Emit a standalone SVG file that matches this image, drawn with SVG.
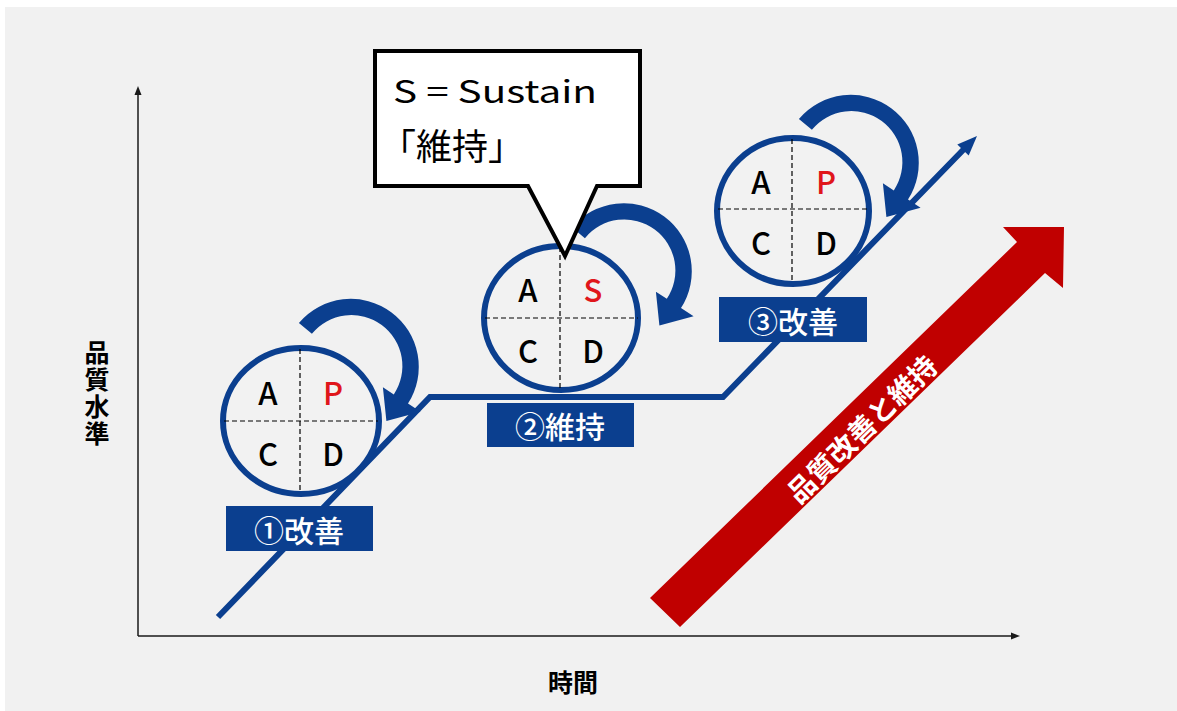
<svg xmlns="http://www.w3.org/2000/svg" width="1177" height="711" viewBox="0 0 1177 711">
<style>
.t{font-family:"Noto Sans CJK JP","Noto Sans",sans-serif}
.ax{stroke:#1a1a1a;stroke-width:1.5;fill:none}
.blue{fill:#0b3f8f}
.ring{fill:#f2f2f2;stroke:#0b3f8f;stroke-width:6}
.dash{stroke:#000;stroke-width:1.2;stroke-dasharray:5 3;fill:none}
.let{font-family:"Noto Sans CJK JP","Noto Sans",sans-serif;font-size:31px;font-weight:500;fill:#000;text-anchor:middle}
.lab{font-family:"Noto Sans CJK JP",sans-serif;font-size:30px;fill:#fff;text-anchor:middle;dominant-baseline:central;font-weight:500}
</style>
<defs>
<path id="curl" d="M-52.1,-43.7 A68,68 0 0 1 57.0,37.0 L69.6,45.2 L35.4,54.5 L31.9,20.7 L42.8,27.8 A51,51 0 0 0 -39.1,-32.8 Z"/>
</defs>
<rect x="0" y="0" width="1177" height="711" fill="#ffffff"/>
<rect x="5" y="7" width="1172" height="704" fill="#f1f1f1"/>

<g id="axes">
<line class="ax" x1="138" y1="636" x2="138" y2="94"/>
<polygon points="138,86 134.5,95 141.5,95" fill="#1a1a1a"/>
<line class="ax" x1="138" y1="636" x2="1012" y2="636"/>
<polygon points="1020,636 1011,632.5 1011,639.5" fill="#1a1a1a"/>
<text class="t" x="573" y="681" font-size="25" font-weight="bold" text-anchor="middle" dominant-baseline="central">時間</text>
<text class="t" x="97" y="340" font-size="25" font-weight="bold" writing-mode="tb" glyph-orientation-vertical="0" letter-spacing="2">品質水準</text>
</g>

<g id="trend-arrow">
<polygon points="650,598 1017,242 1003,227 1064,227 1063,288 1045,273 680,627" fill="#c00000"/>
<text class="t" x="861" y="428" font-size="28" font-weight="bold" fill="#ffffff" text-anchor="middle" dominant-baseline="central" transform="rotate(-44.2 861 428)">品質改善と維持</text>
</g>

<g id="connectors">
<polyline points="218,617 430,397 723,397 966,147" fill="none" stroke="#0b3f8f" stroke-width="6" stroke-linejoin="miter"/>
<polygon points="977,136 957.3,144.4 968.7,155.6" class="blue"/>
</g>

<g id="cycle1">
<ellipse class="ring" cx="301" cy="421" rx="78" ry="73"/>
<line class="dash" x1="224" y1="421" x2="378" y2="421"/>
<line class="dash" x1="300" y1="349" x2="300" y2="493"/>
<text class="let" x="268" y="405">A</text>
<text class="let" x="333" y="405" style="fill:#e0161b">P</text>
<text class="let" x="268" y="466">C</text>
<text class="let" x="333" y="466">D</text>
<use href="#curl" class="blue" transform="translate(351,366.6)"/>
</g>

<g id="cycle2">
<ellipse class="ring" cx="561" cy="318" rx="77" ry="72"/>
<line class="dash" x1="485" y1="318" x2="638" y2="318"/>
<line class="dash" x1="560" y1="247" x2="560" y2="389"/>
<text class="let" x="528" y="302">A</text>
<text class="let" x="593" y="302" style="fill:#e0161b">S</text>
<text class="let" x="528" y="363">C</text>
<text class="let" x="593" y="363">D</text>
<use href="#curl" class="blue" transform="translate(624,271)"/>
</g>

<g id="cycle3">
<ellipse class="ring" cx="793" cy="211" rx="76" ry="73"/>
<line class="dash" x1="718" y1="209" x2="869" y2="209"/>
<line class="dash" x1="792" y1="139" x2="792" y2="283"/>
<text class="let" x="761" y="194">A</text>
<text class="let" x="826" y="194" style="fill:#e0161b">P</text>
<text class="let" x="761" y="255">C</text>
<text class="let" x="826" y="255">D</text>
<use href="#curl" class="blue" transform="translate(851,162.6)"/>
</g>

<g id="label1">
<rect x="226" y="506" width="147" height="45" class="blue"/>
<text class="lab" x="299" y="529">①改善</text>
</g>
<g id="label2">
<rect x="487" y="403" width="147" height="44" class="blue"/>
<text class="lab" x="560" y="425">②維持</text>
</g>
<g id="label3">
<rect x="719" y="297" width="148" height="45" class="blue"/>
<text class="lab" x="793" y="320">③改善</text>
</g>

<g id="callout">
<path d="M375,51 H640 V186 H597 L565,256 L528,186 H375 Z" fill="#ffffff" stroke="#000" stroke-width="4" stroke-linejoin="miter"/>
<text class="t" x="393" y="103" font-size="31" fill="#000" textLength="204" lengthAdjust="spacingAndGlyphs">S = Sustain</text>
<text class="t" x="380" y="160" font-size="36" fill="#000">「維持」</text>
</g>
</svg>
